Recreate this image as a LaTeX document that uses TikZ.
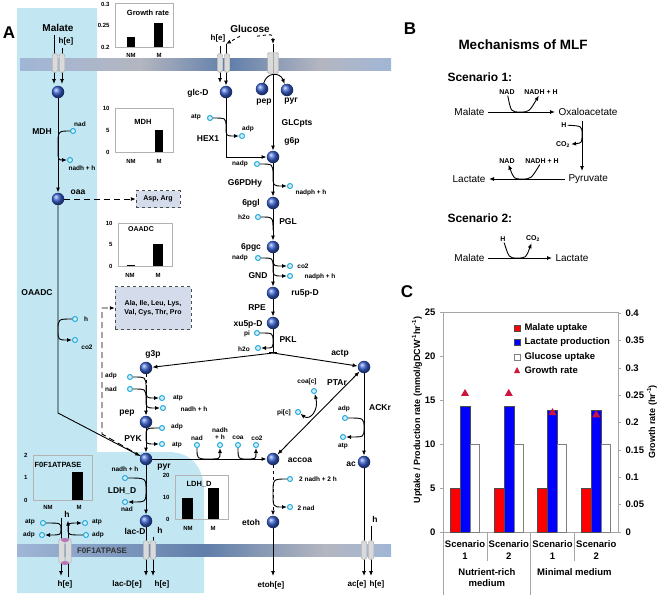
\documentclass[tikz,border=0pt]{standalone}
\usepackage{fontspec}
\setmainfont{Liberation Sans}
\usetikzlibrary{arrows.meta}
\definecolor{cellblue}{RGB}{194,231,243}
\definecolor{ballblue}{RGB}{55,95,205}
\definecolor{cofblue}{RGB}{35,170,220}
\definecolor{aafill}{RGB}{212,220,236}
\definecolor{memlight}{RGB}{160,182,214}
\definecolor{memgrey}{RGB}{180,182,192}
\definecolor{memdark}{RGB}{96,126,170}
\definecolor{chgrey}{RGB}{218,218,218}
\definecolor{growthred}{RGB}{205,20,60}
\tikzset{
  met/.style={circle,shading=ball,ball color=ballblue,minimum size=12.5pt,inner sep=0pt},
  cof/.style={circle,draw=cofblue,fill=cofblue!20,line width=1pt,minimum size=5pt,inner sep=0pt},
  lab/.style={font=\bfseries\fontsize{8.5}{9}\selectfont},
  exlab/.style={font=\bfseries\fontsize{8}{9}\selectfont},
  biglab/.style={font=\bfseries\fontsize{10}{11}\selectfont},
  sm/.style={font=\bfseries\fontsize{6.5}{7}\selectfont},
  axlab/.style={font=\bfseries\fontsize{6}{6}\selectfont},
  ttl/.style={font=\bfseries\fontsize{7.5}{8}\selectfont},
  panel/.style={font=\bfseries\fontsize{17}{17}\selectfont},
  chan/.style={rectangle,rounded corners=2.5pt,minimum width=5.5pt,minimum height=19pt,fill=chgrey,draw=gray!70,inner sep=0pt},
  aabox/.style={draw=black!70,dashed,fill=aafill,align=center,inner sep=2pt,font=\bfseries\fontsize{7}{8.5}\selectfont},
  flux/.style={->,line width=0.9pt},
  insetbox/.style={draw=gray!60,line width=0.6pt},
  mlf/.style={font=\fontsize{10}{11}\selectfont},
  cofB/.style={font=\bfseries\fontsize{7}{8}\selectfont,inner sep=1pt},
  scen/.style={font=\bfseries\fontsize{12}{13}\selectfont},
  cax/.style={font=\bfseries\fontsize{9.5}{11}\selectfont},
}
\begin{document}
\begin{tikzpicture}[x=1pt,y=-1pt,>={Latex[length=5pt,width=4pt]}]
\useasboundingbox (0,0) rectangle (660,595);

% cell compartment and membranes
\fill[cellblue] (17,8) -- (97,8) -- (97,452) -- (168,452) .. controls (192,452) and (204,468) .. (204,492) -- (204,593) -- (17,593) -- cycle;
\shade[left color=memlight,right color=memgrey] (20,58) rectangle (140,70);
\shade[left color=memgrey,right color=memdark] (140,58) rectangle (228,70);
\shade[left color=memdark,right color=memgrey] (228,58) rectangle (320,70);
\shade[left color=memgrey,right color=memlight] (320,58) rectangle (391,70);
\shade[left color=memlight,right color=memdark] (17,544) rectangle (205,556);
\shade[left color=memdark,right color=memgrey] (205,544) rectangle (325,556);
\shade[left color=memgrey,right color=memlight] (325,544) rectangle (391,556);

\node[panel] at (9,33) {A};

% metabolites
\node[met] (malc) at (58,92) {};
\node[met] (oaa) at (58,199) {};
\node[met] (glcd) at (226,92) {};
\node[met] (pepa) at (262,89) {};
\node[met] (pyra) at (287,90) {};
\node[met] (g6p) at (273,157) {};
\node[met] (pgl) at (273,203) {};
\node[met] (pgc) at (273,247) {};
\node[met] (ru5p) at (273,293) {};
\node[met] (xu5p) at (273,323) {};
\node[met] (g3p) at (146,368) {};
\node[met] (actp) at (364,367) {};
\node[met] (pep) at (146,422) {};
\node[met] (pyr) at (146,459) {};
\node[met] (accoa) at (273,459) {};
\node[met] (etoh) at (273,522) {};
\node[met] (ac) at (364,462) {};
\node[met] (lacd) at (146,521) {};
\coordinate (pkl) at (273,353);

\node[lab] at (78,192) {oaa};
\node[lab] at (198,93) {glc-D};
\node[lab] at (264,102) {pep};
\node[lab] at (291,101) {pyr};
\node[lab] at (292,141) {g6p};
\node[lab] at (251,203) {6pgl};
\node[lab] at (251,247) {6pgc};
\node[lab] at (305,293) {ru5p-D};
\node[lab] at (248,324) {xu5p-D};
\node[lab] at (153,354) {g3p};
\node[lab] at (340,354) {actp};
\node[lab] at (127,413) {pep};
\node[lab] at (164,467) {pyr};
\node[lab] at (300,460) {accoa};
\node[lab] at (251,522) {etoh};
\node[lab] at (351,464) {ac};
\node[lab] at (135,531) {lac-D};

% reactions
\node[lab] at (42,132) {MDH};
\node[lab] at (37,293) {OAADC};
\node[lab] at (208,139) {HEX1};
\node[lab] at (297,123) {GLCpts};
\node[lab] at (245,183) {G6PDHy};
\node[lab] at (288,222) {PGL};
\node[lab] at (258,276) {GND};
\node[lab] at (257,308) {RPE};
\node[lab] at (288,340) {PKL};
\node[lab] at (133,439) {PYK};
\node[lab] at (122,491) {LDH\_D};
\node[lab] at (337,383) {PTAr};
\node[lab] at (380,408) {ACKr};

% exchange
\node[biglab] (malE) at (58,28) {Malate};
\node[exlab] (hE1) at (66,41) {h[e]};
\node[biglab] (glcE) at (250,29) {Glucose};
\node[exlab] (hE2) at (218,38) {h[e]};
\node[exlab] at (65,584) {h[e]};
\node[exlab] at (127,584) {lac-D[e]};
\node[exlab] at (162,584) {h[e]};
\node[exlab] at (271,585) {etoh[e]};
\node[exlab] at (357,584) {ac[e]};
\node[exlab] at (377,584) {h[e]};
\node[lab] (hLac) at (160,530) {h};
\node[lab] (hAc) at (375,519) {h};
\node[lab] (hAt) at (67,514) {h};

% cofactors
\node[cof] (mdhA) at (73,131) {}; \node[sm] at (80,124) {nad};
\node[cof] (mdhB) at (70,160) {}; \node[sm] at (82,168) {nadh + h};
\node[cof] (oadA) at (75,319) {}; \node[sm] at (86,319) {h};
\node[cof] (oadB) at (75,340) {}; \node[sm] at (87,347) {co2};
\node[cof] (hexA) at (210,118) {}; \node[sm] at (196,117) {atp};
\node[cof] (hexB) at (242,136) {}; \node[sm] at (248,129) {adp};
\node[cof] (g6pA) at (257,164) {}; \node[sm] at (240,164) {nadp};
\node[cof] (g6pB) at (290,186) {}; \node[sm] at (311,193) {nadph + h};
\node[cof] (pglA) at (258,217) {}; \node[sm] at (244,217) {h2o};
\node[cof] (gndA) at (258,258) {}; \node[sm] at (240,258) {nadp};
\node[cof] (gndB) at (290,266) {}; \node[sm] at (303,266) {co2};
\node[cof] (gndC) at (290,276) {}; \node[sm] at (320,277) {nadph + h};
\node[cof] (pklA) at (257,333) {}; \node[sm] at (247,334) {pi};
\node[cof] (pklB) at (258,348) {}; \node[sm] at (244,349) {h2o};
\node[cof] (gapA) at (130,377) {}; \node[sm] at (111,376) {adp};
\node[cof] (gapB) at (130,389) {}; \node[sm] at (111,389) {nad};
\node[cof] (gapC) at (162,398) {}; \node[sm] at (178,398) {atp};
\node[cof] (gapD) at (163,408) {}; \node[sm] at (194,409) {nadh + h};
\node[cof] (pykA) at (162,428) {}; \node[sm] at (177,427) {adp};
\node[cof] (pykB) at (162,444) {}; \node[sm] at (177,445) {atp};
\node[cof] (pdhA) at (197,445) {}; \node[sm] at (197,438) {nad};
\node[cof] (pdhB) at (220,445) {}; \node[sm,align=center] at (220,434) {nadh\\+ h};
\node[cof] (pdhC) at (238,445) {}; \node[sm] at (238,438) {coa};
\node[cof] (pdhD) at (256,445) {}; \node[sm] at (257,438) {co2};
\node[cof] (ptaA) at (314,391) {}; \node[sm] at (307,382) {coa[c]};
\node[cof] (ptaB) at (298,412) {}; \node[sm] at (284,413) {pi[c]};
\node[cof] (ackA) at (345,418) {}; \node[sm] at (344,409) {adp};
\node[cof] (ackB) at (343,437) {}; \node[sm] at (343,446) {atp};
\node[cof] (adhA) at (290,479) {}; \node[sm] at (318,479) {2 nadh + 2 h};
\node[cof] (adhB) at (290,507) {}; \node[sm] at (306,508) {2 nad};
\node[cof] (ldhA) at (125,478) {}; \node[sm] at (125,469) {nadh + h};
\node[cof] (ldhB) at (125,502) {}; \node[sm] at (127,509) {nad};
\node[cof] (atpA) at (43,523) {}; \node[sm] at (30,522) {atp};
\node[cof] (atpB) at (42,535) {}; \node[sm] at (29,535) {adp};
\node[cof] (atpC) at (85,523) {}; \node[sm] at (97,522) {atp};
\node[cof] (atpD) at (86,535) {}; \node[sm] at (98,535) {adp};

% cofactor arcs
\draw[flux] (mdhA) .. controls (58,131) .. (58,146) .. controls (58,160) .. (mdhB);
\draw[flux] (oadA) .. controls (58,319) .. (58,330) .. controls (58,340) .. (oadB);
\draw[flux] (hexA) .. controls (226,118) .. (226,127) .. controls (226,136) .. (hexB);
\draw[flux] (g6pA) .. controls (273,164) .. (273,175) .. controls (273,186) .. (g6pB);
\draw[line width=0.9pt] (pglA) .. controls (273,217) .. (273,230);
\draw[flux] (gndA) .. controls (273,258) .. (273,267) .. controls (273,276) .. (gndC);
\draw[flux] (273,261) .. controls (274,266) .. (gndB);
\draw[flux] (pklA) .. controls (273,333) .. (273,341) .. controls (273,348) .. (pklB);
\draw[flux] (gapA) .. controls (146,377) .. (146,388) .. controls (146,398) .. (gapC);
\draw[flux] (gapB) .. controls (146,389) .. (146,399) .. controls (146,408) .. (gapD);
\draw[flux] (pykA) .. controls (146,428) .. (146,436) .. controls (146,444) .. (pykB);
\draw[flux] (pdhA) .. controls (197,459) .. (208,459) .. controls (220,459) .. (pdhB);
\draw[flux] (pdhC) .. controls (238,459) .. (247,459) .. controls (256,459) .. (pdhD);
\draw[flux,<->] (ptaB) .. controls (310,421) and (319,410) .. (ptaA);
\draw[flux] (ackA) .. controls (364,418) .. (364,428) .. controls (364,437) .. (ackB);
\draw[flux] (adhA) .. controls (273,479) .. (273,493) .. controls (273,507) .. (adhB);
\draw[flux] (ldhA) .. controls (146,478) .. (146,490) .. controls (146,502) .. (ldhB);
\draw[flux] (atpA) .. controls (61,523) .. (61,529) .. controls (61,535) .. (atpB);
\draw[flux] (atpD) .. controls (68,535) .. (68,529) .. controls (68,523) .. (atpC);

% amino acid boxes
\node[aabox,minimum width=44pt,minimum height=17pt] (asp) at (158,199) {Asp, Arg};
\node[aabox,minimum width=76pt,minimum height=43pt] (aa) at (153,308) {Ala, Ile, Leu, Lys,\\Val, Cys, Thr, Pro};

% main fluxes
\coordinate (malIn) at (54,84);
\coordinate (hIn1) at (62,84);
\draw[flux] (malE.south -| malIn) -- (malIn);
\draw[flux] (hE1.south -| hIn1) -- (hIn1);
\draw[flux] (malc) -- (oaa);
\draw[flux,dash pattern=on 6pt off 4pt] (oaa) -- (asp);
\coordinate (oadBend) at (58,413);
\draw[flux] (oaa) -- (oadBend) -- (pyr);
\coordinate (dA) at (102,434);
\coordinate (dB) at (102,308);
\draw[flux,dash pattern=on 6pt off 4pt] (pyr) -- (dA) -- (dB) -- (aa);

\coordinate (glcTop) at (226,44);
\coordinate (hTop2) at (220,46);
\coordinate (hIn2) at (220,83);
\coordinate (ptsTop) at (273,44);
\coordinate (hexc) at (226,157);
\draw[flux,dashed] ([xshift=-10pt]glcE.south) -- (glcTop);
\draw[flux,dashed] ([xshift=7pt]glcE.south) .. controls (273,34) .. (ptsTop);
\draw[flux] (hTop2) -- (hIn2);
\draw[line width=0.9pt] (glcTop) -- (226,47);
\draw[flux] (226,47) -- (glcd);
\draw[flux] (ptsTop) -- (g6p);
\draw[flux] (pepa) .. controls (267,72) and (280,72) .. (pyra);
\draw[flux] (glcd) -- (hexc) -- (g6p);
\draw[flux] (g6p) -- (pgl);
\draw[flux] (pgl) -- (pgc);
\draw[flux] (pgc) -- (ru5p);
\draw[flux] (ru5p) -- (xu5p);
\draw[line width=0.9pt] (xu5p) -- (pkl);
\draw[line width=0.9pt] (269,352) -- (277,352);
\draw[flux] (pkl) -- (g3p);
\draw[flux] (pkl) -- (actp);
\coordinate (gapMid) at (146,385);
\draw[line width=0.9pt,dashed] (g3p) -- (gapMid);
\draw[flux] (gapMid) -- (pep);
\draw[flux] (pep) -- (pyr);
\draw[flux] (pyr) -- (accoa);
\draw[flux] (pyr) -- (lacd);
\draw[flux,dashed] (accoa) -- (etoh);
\draw[flux,<->] (actp) -- (accoa);
\draw[flux] (actp) -- (ac);

\coordinate (etohOut) at (273,576);
\coordinate (acOut) at (364,576);
\coordinate (hAcOut) at (371,576);
\coordinate (lacOut) at (146,576);
\coordinate (hLacOut) at (153,576);
\coordinate (atOutA) at (61,576);
\coordinate (atOutB) at (68,577);
\draw[flux] (etoh) -- (etohOut);
\draw[flux] (ac) -- (acOut);
\draw[flux] (hAc.south -| hAcOut) -- (hAcOut);
\draw[flux] (lacd) -- (lacOut);
\draw[flux] (hLac.south -| hLacOut) -- (hLacOut);
\draw[flux] (61,518) -- (atOutA);
\draw[flux] (atOutB) -- (hAt.south -| atOutB);

% transporters
\node[chan] at (55,63) {};
\node[chan] at (62,63) {};
\node[chan] at (220,63) {};
\node[chan] at (227,63) {};
\node[chan,minimum width=11pt,minimum height=21pt,rounded corners=1.5pt] (chPts) at (273,63) {};
\draw[gray!70] (chPts.north) -- (chPts.south);
\node[chan,minimum height=25pt] at (61.5,551) {};
\node[chan,minimum height=25pt] at (68.5,551) {};
\fill[violet!55] (65,540) ellipse (4 and 2);
\fill[violet!55] (65,563) ellipse (4 and 2);
\node[chan] at (146,550) {};
\node[chan] at (153,550) {};
\node[chan] at (364,550) {};
\node[chan] at (371,550) {};
\node[font=\bfseries\fontsize{8}{9}\selectfont,text=black!80] at (102,551) {F0F1ATPASE};

% insets
\draw[insetbox] (115,3) rectangle (173,47);
\fill (127,37) rectangle (135,47);
\fill (154,23) rectangle (163,47);
\node[axlab,anchor=east] at (113,4) {0.3};
\node[axlab,anchor=east] at (113,25) {0.25};
\node[axlab,anchor=east] at (113,47) {0.2};
\node[ttl] at (148,13) {Growth rate};
\node[axlab] at (131,55) {NM};
\node[axlab] at (159,55) {M};

\draw[insetbox] (115,108) rectangle (173,152);
\fill (155,130) rectangle (163,152);
\node[axlab,anchor=east] at (113,108) {10};
\node[axlab,anchor=east] at (113,130) {5};
\node[axlab,anchor=east] at (113,152) {0};
\node[ttl] at (143,122) {MDH};
\node[axlab] at (131,161) {NM};
\node[axlab] at (159,161) {M};

\draw[insetbox] (118,223) rectangle (172,266);
\fill (127,265.3) rectangle (135,266);
\fill (153,244) rectangle (163,266);
\node[axlab,anchor=east] at (116,223) {10};
\node[axlab,anchor=east] at (116,244.5) {5};
\node[axlab,anchor=east] at (116,266) {0};
\node[ttl,font=\bfseries\fontsize{7}{8}\selectfont] at (141,229) {OAADC};
\node[axlab] at (130,275) {NM};
\node[axlab] at (158,275) {M};

\draw[insetbox] (33,455) rectangle (92,500);
\fill (72,472) rectangle (83,500);
\node[axlab,anchor=east] at (31,455) {2};
\node[axlab,anchor=east] at (31,477.5) {1};
\node[axlab,anchor=east] at (31,500) {0};
\node[ttl] at (58,465) {F0F1ATPASE};
\node[axlab] at (48,507) {NM};
\node[axlab] at (79,507) {M};

\draw[insetbox] (175,475) rectangle (228,519);
\fill (182,498) rectangle (193,519);
\fill (208,488) rectangle (219,519);
\node[axlab,anchor=east] at (173,475) {20};
\node[axlab,anchor=east] at (173,497) {10};
\node[axlab,anchor=east] at (173,519) {0};
\node[ttl] at (199,484) {LDH\_D};
\node[axlab] at (188,528) {NM};
\node[axlab] at (213,528) {M};

% panel B
\node[panel] at (410,29) {B};
\node[font=\bfseries\fontsize{13.5}{14}\selectfont] at (523,45) {Mechanisms of MLF};
\node[scen,anchor=west] at (444,77) {Scenario 1:};
\node[mlf,anchor=east] (bMal1) at (488,112) {Malate};
\node[mlf,anchor=west] (bOxa) at (555,112) {Oxaloacetate};
\node[cofB] (bNad1) at (507,92) {NAD};
\node[cofB] (bNadh1) at (541,92) {NADH + H};
\draw[flux] (bMal1) -- (bOxa);
\draw[flux] (bNad1) .. controls (511,112) .. (520,112) .. controls (529,112) .. (bNadh1);
\coordinate (bDown1) at (582,121);
\coordinate (bDown2) at (582,171);
\draw[flux] (bDown1) -- (bDown2);
\node[cofB] (bH1) at (564,125) {H};
\node[cofB] (bCo1) at (563,145) {CO\textsubscript{2}};
\draw[flux] (bH1) .. controls (582,126) .. (582,134) .. controls (582,143) .. (bCo1);
\node[mlf,anchor=east] (bLac1) at (489,179) {Lactate};
\node[mlf,anchor=west] (bPyr) at (565,179) {Pyruvate};
\draw[flux] (bPyr) -- (bLac1);
\node[cofB] (bNad2) at (507,161) {NAD};
\node[cofB] (bNadh2) at (542,161) {NADH + H};
\draw[flux] (bNadh2) .. controls (531,179) .. (522,179) .. controls (514,179) .. (bNad2);
\node[scen,anchor=west] at (444,218) {Scenario 2:};
\node[mlf,anchor=east] (bMal2) at (488,258) {Malate};
\node[mlf,anchor=west] (bLac2) at (552,258) {Lactate};
\draw[flux] (bMal2) -- (bLac2);
\node[cofB] (bH2) at (503,239) {H};
\node[cofB] (bCo2) at (533,239) {CO\textsubscript{2}};
\draw[flux] (bH2) .. controls (509,258) .. (517,258) .. controls (526,258) .. (bCo2);

% panel C
\node[panel] at (407,292) {C};
\draw[gray!70,line width=0.8pt] (443,595) -- (443,312) -- (618,312) -- (618,532);
\draw[gray!70,line width=0.8pt] (443,532) -- (618,532);
\foreach \val in {0,5,...,25} {
  \draw[gray!70] (440,{532-8.8*\val}) -- (443,{532-8.8*\val});
  \node[cax,anchor=east] at (439,{532-8.8*\val}) {\val};
}
\foreach \i/\lbl in {0/0,1/0.05,2/0.1,3/0.15,4/0.2,5/0.25,6/0.3,7/0.35,8/0.4} {
  \draw[gray!70] (618,{532-27.375*\i}) -- (621,{532-27.375*\i});
  \node[cax,anchor=west] at (622,{532-27.375*\i}) {\lbl};
}
\foreach \cx/\lp/\gr/\num in {465/14.3/0.254/1,508.75/14.3/0.254/2,552.5/13.8/0.219/1,596.25/13.8/0.215/2} {
  \filldraw[fill=red,draw=black!70] ({\cx-15},532) rectangle ({\cx-5},488);
  \filldraw[fill=blue,draw=black!70] ({\cx-5},532) rectangle ({\cx+5},{532-8.8*\lp});
  \draw[gray] ({\cx+5},532) rectangle ({\cx+14},444);
  \fill[growthred] ({\cx-4},{535-547.5*\gr}) -- ({\cx+4},{535-547.5*\gr}) -- (\cx,{528-547.5*\gr}) -- cycle;
  \node[cax] at (\cx,544) {Scenario};
  \node[cax] at (\cx,556) {\num};
}
\draw[gray!70,line width=0.8pt] (486.9,532) -- (486.9,561);
\draw[gray!70,line width=0.8pt] (530.6,532) -- (530.6,595);
\draw[gray!70,line width=0.8pt] (574.4,532) -- (574.4,561);
\node[cax,align=center] at (486.9,578) {Nutrient-rich\\medium};
\node[cax] at (574.4,572) {Minimal medium};

\filldraw[fill=red,draw=black!70] (514,325) rectangle (520,331);
\node[cax,anchor=west] at (521,328) {Malate uptake};
\filldraw[fill=blue,draw=black!70] (514,339) rectangle (520,345);
\node[cax,anchor=west] at (521,342) {Lactate production};
\draw[gray] (514,354) rectangle (520,360);
\node[cax,anchor=west] at (521,357) {Glucose uptake};
\fill[growthred] (514,373) -- (520,373) -- (517,367) -- cycle;
\node[cax,anchor=west] at (521,370) {Growth rate};

\node[cax,rotate=90,font=\bfseries\fontsize{9}{10}\selectfont] at (417,410) {Uptake / Production rate (mmol/gDCW\textsuperscript{-1}hr\textsuperscript{-1})};
\node[cax,rotate=90,font=\bfseries\fontsize{9}{10}\selectfont] at (652,422) {Growth rate (hr\textsuperscript{-1})};

\end{tikzpicture}
\end{document}
